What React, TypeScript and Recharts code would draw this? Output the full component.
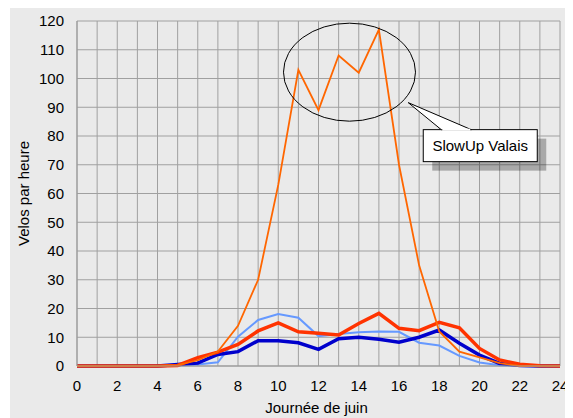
import { CartesianGrid, Line, LineChart, ReferenceDot, XAxis, YAxis } from 'recharts'

const hours = Array.from({ length: 25 }, (_, i) => i)
const slowUp = [0, 0, 0, 0, 0, 0.3, 2, 5, 14, 30, 63, 103, 89, 108, 102, 117, 70, 35, 12, 5, 3, 1, 0, 0, 0]
const blueDays = [0, 0, 0, 0, 0, 0.5, 1, 4, 5, 8.8, 8.8, 8.1, 5.8, 9.5, 10, 9.3, 8.3, 10, 12.5, 7.9, 3.8, 0.9, 0.2, 0, 0]
const redDays = [0, 0, 0, 0, 0, 0.2, 2.9, 4.8, 7.5, 12.2, 15, 11.9, 11.4, 10.8, 14.8, 18.3, 13.1, 12.3, 15.2, 13.3, 6.1, 2.1, 0.6, 0.1, 0]
const lightDays = [0, 0, 0, 0, 0, 0.2, 0.5, 1.3, 10.2, 16, 18.1, 16.8, 10.4, 11.1, 11.7, 12, 11.9, 8.1, 7.1, 3.5, 1.2, 0.3, 0, 0, 0]
const yTicks = [0, 10, 20, 30, 40, 50, 60, 70, 80, 90, 100, 110, 120]
const calloutText = 'SlowUp Valais'

const data = hours.map((h, i) => ({
  h,
  slowUp: slowUp[i],
  blue: blueDays[i],
  red: redDays[i],
  light: lightDays[i],
}))

const font = '"Liberation Sans", Arial, sans-serif'

const Callout = ({ cx, cy }: any) => (
  <g>
    <rect x={cx + 24} y={cy + 36} width={114} height={32} fill="#000" opacity={0.28} />
    <rect x={cx + 15} y={cy + 27} width={114} height={32} fill="#fff" stroke="#000" strokeWidth={1} />
    <polygon points={`${cx},${cy} ${cx + 33},${cy + 27} ${cx + 63},${cy + 27}`} fill="#fff" stroke="#000" strokeWidth={1} />
    <line x1={cx + 34} y1={cy + 27} x2={cx + 62} y2={cy + 27} stroke="#fff" strokeWidth={2} />
    <text x={cx + 72} y={cy + 48} textAnchor="middle" fontSize={15} fontFamily={font} fill="#000">
      {calloutText}
    </text>
  </g>
)

export default function App() {
  return (
    <div style={{ marginLeft: 2, marginTop: -1, width: 563, height: 411, background: '#eaeaea', fontFamily: font }}>
      <LineChart width={563} height={411} data={data} margin={{ top: 14, right: 13, bottom: 0, left: 0 }}>
        <CartesianGrid stroke="#a0a0a0" strokeWidth={1} />
        <XAxis
          dataKey="h"
          type="number"
          domain={[0, 24]}
          ticks={hours}
          interval={0}
          tickFormatter={(v: number) => (v % 2 === 0 ? String(v) : '')}
          tickLine={false}
          tickSize={0}
          tickMargin={14}
          stroke="#999"
          height={52}
          tick={{ fill: '#000', fontSize: 15, fontFamily: font }}
          label={{
            content: ({ viewBox }: any) => (
              <text x={viewBox.x + viewBox.width / 2 - 2} y={viewBox.y + 47} textAnchor="middle" fontSize={15} fontFamily={font} fill="#000">
                Journée de juin
              </text>
            ),
          }}
        />
        <YAxis
          type="number"
          domain={[0, 120]}
          ticks={yTicks}
          interval={0}
          tickLine={false}
          tickSize={0}
          tickMargin={13}
          stroke="#999"
          width={67}
          tick={{ fill: '#000', fontSize: 15, fontFamily: font }}
          label={{
            content: ({ viewBox }: any) => {
              const x = viewBox.x + 13
              const y = viewBox.y + viewBox.height / 2
              return (
                <text x={x} y={y} transform={`rotate(-90 ${x} ${y})`} textAnchor="middle" dominantBaseline="central" fontSize={15} fontFamily={font} fill="#000">
                  Velos par heure
                </text>
              )
            },
          }}
        />
        <Line dataKey="light" stroke="#6699ff" strokeWidth={2} dot={false} isAnimationActive={false} />
        <Line dataKey="blue" stroke="#0000cc" strokeWidth={3.5} dot={false} isAnimationActive={false} />
        <Line dataKey="red" stroke="#ff3300" strokeWidth={3.5} dot={false} isAnimationActive={false} />
        <Line dataKey="slowUp" stroke="#ff6600" strokeWidth={1.8} dot={false} isAnimationActive={false} />
        <ReferenceDot
          x={13.54}
          y={102.2}
          r={1}
          shape={({ cx, cy }: any) => <ellipse cx={cx} cy={cy} rx={66} ry={49} fill="none" stroke="#000" strokeWidth={1} />}
        />
        <ReferenceDot x={16.46} y={91.6} r={1} shape={Callout} />
      </LineChart>
    </div>
  )
}
